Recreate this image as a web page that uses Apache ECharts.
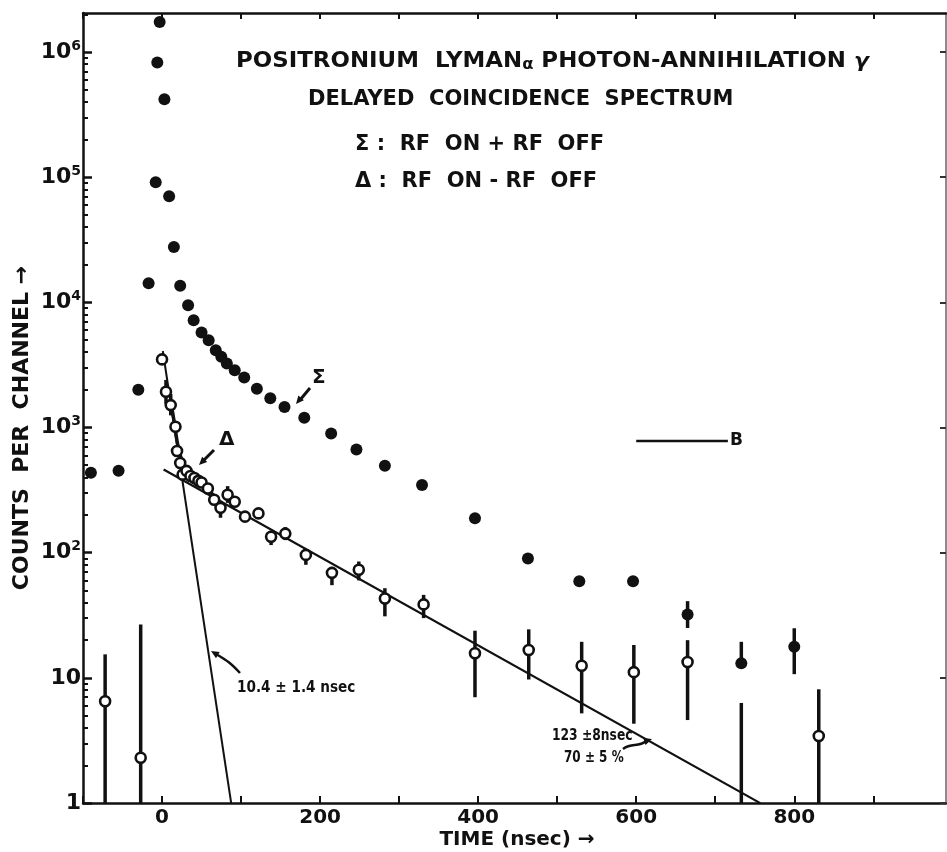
<!DOCTYPE html>
<html>
<head>
<meta charset="utf-8">
<script src="https://cdn.jsdelivr.net/npm/echarts@6/dist/echarts.min.js"></script>
<style>
  html, body { margin: 0; padding: 0; background: #fff; }
  #chart { width: 947px; height: 852px; }
</style>
</head>
<body>
<div id="chart"></div>
<script>
// Σ : RF ON + RF OFF — time (nsec) and counts per channel
const sumTime   = [-90, -55, -30, -17, -8, -6, -3, 3, 9, 15, 23, 33, 40, 50, 59, 68, 75, 82, 92, 104,
                   120, 137, 155, 180, 214, 246, 282, 329, 396, 463, 528, 596, 665, 733, 800];
const sumCounts = [435, 451, 2000, 14200, 91000, 825000, 1740000, 420000, 70500, 27700, 13600, 9500,
                   7200, 5750, 4990, 4150, 3670, 3250, 2870, 2510, 2040, 1710, 1460, 1195, 897, 668,
                   494, 347, 188, 90, 59, 59, 32, 13.1, 17.7];
const sumLow    = [null, null, null, null, null, null, null, null, null, null, null, null, null, null,
                   null, null, null, null, null, null, null, null, null, null, null, null, null, null,
                   null, 83, 54.5, 54.5, 25, 12, 10.7];
const sumHigh   = [null, null, null, null, null, null, null, null, null, null, null, null, null, null,
                   null, null, null, null, null, null, null, null, null, null, null, null, null, null,
                   null, 98, 64, 64, 41, 19.4, 24.9];

// Δ : RF ON - RF OFF — null low = bar runs below the plotted range
const deltaTime   = [-72, -27, 0, 5, 11, 17, 19, 23, 26, 31, 36, 41, 46, 50, 58, 66, 74, 83, 92, 105,
                     122, 138, 156, 182, 215, 249, 282, 331, 396, 464, 531, 597, 665, 733, 831];
const deltaCounts = [6.5, 2.3, 3500, 1930, 1510, 1014, 650, 520, 420, 450, 410, 395, 375, 364, 326,
                     265, 228, 290, 255, 194, 206, 134, 142, 96, 69, 73, 43, 38.6, 15.7, 16.7, 12.5,
                     11.1, 13.4, null, 3.43];
const deltaLow    = [null, null, undefined, 1550, 1250, undefined, undefined, undefined, undefined,
                     undefined, undefined, undefined, undefined, undefined, undefined, undefined, 190,
                     250, undefined, 180, 190, 115, 126, 80, 55, 60, 31, 30, 7.0, 9.7, 5.2, 4.3, 4.6,
                     null, null];
const deltaHigh   = [15.4, 26.7, undefined, 2400, 1850, undefined, undefined, undefined, undefined,
                     undefined, undefined, undefined, undefined, undefined, undefined, undefined, 260,
                     340, undefined, 210, 228, 150, 160, 100, 77, 85, 52, 46, 23.8, 24.4, 19.4, 18.3,
                     20, 6.3, 8.1];

// hand-drawn curve through the early Δ points
const deltaCurveTime   = [11, 15, 19, 23, 28, 35, 44, 54, 66];
const deltaCurveCounts = [1600, 1150, 780, 600, 500, 440, 385, 335, 285];

// exponential fit components
const fastLifetime = 10.4, fastAmplitude = 4500, fastRange = [1, 87.5];
const slowLifetime = 123,  slowAmplitude = 470,  slowRange = [2, 757];

// background level B
const bgTime = [600, 716];
const bgLevel = 780;

// axis ticks
const xTicks = [-100, 0, 100, 200, 300, 400, 500, 600, 700, 800, 900];
const xLabels = [0, 200, 400, 600, 800];
const yDecades = [1, 10, 100, 1000, 10000, 100000, 1000000];

const Y_MIN = 1, Y_MAX = 2.05e6, X_MIN = -100, X_MAX = 992;
const FONT = '"DejaVu Sans", "Liberation Sans", sans-serif';
const INK = '#111';

const yMinor = [];
yDecades.forEach(d => { for (let k = 2; k <= 9; k++) if (k * d <= Y_MAX) yMinor.push(k * d); });

const zip = (a, b) => a.map((v, i) => [v, b[i]]);
const sumPoints = zip(sumTime, sumCounts);
const deltaPoints = deltaTime.map((t, i) => [t, deltaCounts[i]]).filter(p => p[1] != null);

const bars = [];
sumTime.forEach((t, i) => { if (sumHigh[i] != null) bars.push([t, sumLow[i] == null ? Y_MIN : sumLow[i], sumHigh[i]]); });
deltaTime.forEach((t, i) => {
  if (deltaHigh[i] !== undefined) bars.push([t, deltaLow[i] == null ? Y_MIN : deltaLow[i], deltaHigh[i]]);
});

const expLine = (amp, tau, range) => range.map(t => [t, amp * Math.exp(-t / tau)]);

const boldText = (size) => ({ fontFamily: FONT, fontWeight: 'bold', fontSize: size, fill: INK });

function arrowHead(x, y, angle, size) {
  const a = angle, s = size;
  return {
    type: 'polygon',
    shape: { points: [
      [x, y],
      [x - s * Math.cos(a) + s * 0.45 * Math.sin(a), y - s * Math.sin(a) - s * 0.45 * Math.cos(a)],
      [x - s * Math.cos(a) - s * 0.45 * Math.sin(a), y - s * Math.sin(a) + s * 0.45 * Math.cos(a)]
    ] },
    style: { fill: INK }
  };
}

const chart = echarts.init(document.getElementById('chart'));

const option = {
  animation: false,
  backgroundColor: '#fff',
  grid: { left: 83, right: 1, top: 13, bottom: 49 },
  xAxis: [
    {
      type: 'value', position: 'bottom', min: X_MIN, max: X_MAX, interval: 100,
      axisLine: { onZero: false, lineStyle: { color: INK, width: 2.5 } },
      axisTick: { inside: true, length: 7, lineStyle: { color: INK, width: 2 }, customValues: xTicks },
      axisLabel: {
        customValues: xLabels, color: INK, fontFamily: FONT, fontWeight: 'bold', fontSize: 20, margin: 5
      },
      splitLine: { show: false }
    },
    {
      type: 'value', position: 'top', min: X_MIN, max: X_MAX, interval: 100,
      axisLine: { onZero: false, lineStyle: { color: INK, width: 2.5 } },
      axisTick: { inside: true, length: 6, lineStyle: { color: INK, width: 2 }, customValues: xTicks },
      axisLabel: { show: false },
      splitLine: { show: false }
    }
  ],
  yAxis: [
    {
      type: 'log', logBase: 10, position: 'left', min: Y_MIN, max: Y_MAX,
      axisLine: { show: true, onZero: false, lineStyle: { color: INK, width: 2.5 } },
      axisTick: { show: true, inside: true, length: 9, lineStyle: { color: INK, width: 2.5 }, customValues: yDecades },
      axisLabel: {
        customValues: yDecades, margin: 2,
        formatter: v => {
          const e = Math.round(Math.log10(v));
          if (e === 0) return '{b|1}';
          if (e === 1) return '{b|10}';
          return '{b|10}{s|' + e + '}';
        },
        rich: {
          b: { fontFamily: FONT, fontWeight: 'bold', fontSize: 22, color: INK, lineHeight: 26 },
          s: { fontFamily: FONT, fontWeight: 'bold', fontSize: 14, color: INK, verticalAlign: 'top', lineHeight: 14 }
        }
      },
      splitLine: { show: false }
    },
    {
      type: 'log', logBase: 10, position: 'left', min: Y_MIN, max: Y_MAX,
      axisLine: { show: false, onZero: false },
      axisTick: { show: true, inside: true, length: 5, lineStyle: { color: INK, width: 2 }, customValues: yMinor },
      axisLabel: { show: false },
      splitLine: { show: false }
    },
    {
      type: 'log', logBase: 10, position: 'right', min: Y_MIN, max: Y_MAX,
      axisLine: { show: true, onZero: false, lineStyle: { color: '#666', width: 1.5 } },
      axisTick: { show: true, inside: true, length: 6, lineStyle: { color: '#333', width: 2 }, customValues: yDecades },
      axisLabel: { show: false },
      splitLine: { show: false }
    }
  ],
  series: [
    {
      name: 'fast', type: 'line', data: expLine(fastAmplitude, fastLifetime, fastRange),
      showSymbol: false, lineStyle: { color: INK, width: 2 }, z: 2
    },
    {
      name: 'slow', type: 'line', data: expLine(slowAmplitude, slowLifetime, slowRange),
      showSymbol: false, lineStyle: { color: INK, width: 2.2 }, z: 2
    },
    {
      name: 'curve', type: 'line', data: zip(deltaCurveTime, deltaCurveCounts), smooth: 0.4,
      showSymbol: false, lineStyle: { color: INK, width: 3.5 }, z: 2
    },
    {
      name: 'B', type: 'line', data: bgTime.map(t => [t, bgLevel]),
      showSymbol: false, lineStyle: { color: INK, width: 2.5 }, z: 2
    },
    {
      name: 'errors', type: 'custom', data: bars, encode: { x: 0, y: [1, 2] }, z: 3,
      renderItem: (params, api) => {
        const p1 = api.coord([api.value(0), api.value(1)]);
        const p2 = api.coord([api.value(0), api.value(2)]);
        return { type: 'line', shape: { x1: p1[0], y1: p1[1], x2: p2[0], y2: p2[1] },
                 style: { stroke: INK, lineWidth: 3.5 } };
      }
    },
    {
      name: 'Σ', type: 'scatter', data: sumPoints, symbol: 'circle', symbolSize: 12,
      itemStyle: { color: INK, opacity: 1 }, z: 4
    },
    {
      name: 'Δ', type: 'scatter', data: deltaPoints, symbol: 'circle', symbolSize: 10,
      itemStyle: { color: '#fff', borderColor: INK, borderWidth: 2.6, opacity: 1 }, z: 5
    }
  ],
  graphic: [
    { type: 'text', x: 236, y: 62, scaleX: 1.09, style: Object.assign(boldText(21), {
        text: 'POSITRONIUM  LYMAN{a|α} PHOTON-ANNIHILATION {g|γ}', verticalAlign: 'middle',
        rich: { a: { fontFamily: FONT, fontWeight: 'bold', fontSize: 15, fill: INK, padding: [6, 0, 0, 0] },
                g: { fontFamily: FONT, fontWeight: 'bold', fontStyle: 'italic', fontSize: 20, fill: INK } } }) },
    { type: 'text', x: 308, y: 100, style: Object.assign(boldText(21), { text: 'DELAYED  COINCIDENCE  SPECTRUM', verticalAlign: 'middle' }) },
    { type: 'text', x: 355, y: 145, style: Object.assign(boldText(21), { text: 'Σ :  RF  ON + RF  OFF', verticalAlign: 'middle' }) },
    { type: 'text', x: 355, y: 182, style: Object.assign(boldText(21), { text: 'Δ :  RF  ON - RF  OFF', verticalAlign: 'middle' }) },

    { type: 'text', x: 22, y: 428, rotation: Math.PI / 2,
      style: Object.assign(boldText(22), { text: 'COUNTS  PER  CHANNEL →', align: 'center', verticalAlign: 'middle' }) },
    { type: 'text', x: 517, y: 840,
      style: Object.assign(boldText(20), { text: 'TIME (nsec) →', align: 'center', verticalAlign: 'middle' }) },

    { type: 'text', x: 312, y: 378, style: Object.assign(boldText(20), { text: 'Σ', verticalAlign: 'middle' }) },
    { type: 'line', shape: { x1: 310, y1: 388, x2: 300, y2: 400 }, style: { stroke: INK, lineWidth: 3 } },
    arrowHead(296, 404, Math.atan2(12, -10), 8),

    { type: 'text', x: 219, y: 440, style: Object.assign(boldText(20), { text: 'Δ', verticalAlign: 'middle' }) },
    { type: 'line', shape: { x1: 214, y1: 450, x2: 203, y2: 461 }, style: { stroke: INK, lineWidth: 3 } },
    arrowHead(199, 465, Math.atan2(11, -11), 8),

    { type: 'text', x: 237, y: 688, scaleX: 0.85,
      style: Object.assign(boldText(16), { text: '10.4 ± 1.4 nsec', verticalAlign: 'middle' }) },
    { type: 'bezierCurve', shape: { x1: 240, y1: 673, cpx1: 230, cpy1: 662, cpx2: 226, cpy2: 660, x2: 216, y2: 654 },
      style: { stroke: INK, lineWidth: 2.5, fill: null } },
    arrowHead(211, 651, Math.atan2(-3, -5), 8),

    { type: 'text', x: 552, y: 736, scaleX: 0.82,
      style: Object.assign(boldText(15), { text: '123 ±8nsec', verticalAlign: 'middle' }) },
    { type: 'text', x: 564, y: 758, scaleX: 0.8,
      style: Object.assign(boldText(15), { text: '70 ± 5 %', verticalAlign: 'middle' }) },
    { type: 'bezierCurve', shape: { x1: 623, y1: 749, cpx1: 632, cpy1: 742, cpx2: 638, cpy2: 748, x2: 646, y2: 741 },
      style: { stroke: INK, lineWidth: 2.5, fill: null } },
    arrowHead(652, 739, Math.atan2(-2, 6), 8),

    { type: 'text', x: 730, y: 441, style: Object.assign(boldText(17), { text: 'B', verticalAlign: 'middle' }) }
  ]
};

chart.setOption(option);
</script>
</body>
</html>
